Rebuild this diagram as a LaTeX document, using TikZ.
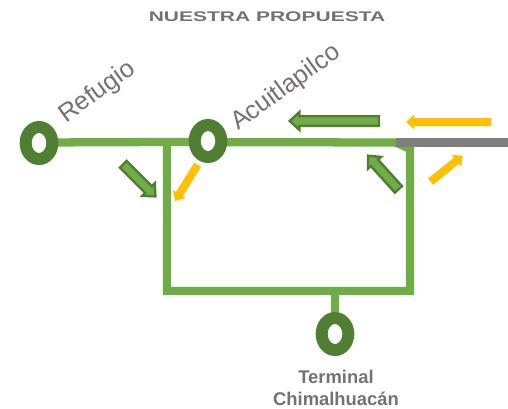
\documentclass[tikz,border=0pt]{standalone}
\usepackage{fontspec}
\setmainfont{Liberation Sans}
\usetikzlibrary{shapes.geometric,shapes.arrows}
\definecolor{lineG}{HTML}{70AD47}
\definecolor{darkG}{HTML}{507E32}
\definecolor{amber}{HTML}{FFC000}
\definecolor{greyL}{HTML}{7F7F7F}
\definecolor{txt}{HTML}{767171}
\tikzset{
  x=0.75pt,y=-0.75pt,
  station/.style={ellipse,draw=darkG,line width=9pt,fill=white,minimum width=20pt,minimum height=24pt,inner sep=0pt},
  route/.style={draw=lineG,line width=6.2pt},
  oldroute/.style={draw=greyL,line width=6.2pt},
  garrow/.style={single arrow,draw=darkG,line width=1.8pt,fill=lineG,inner xsep=0pt,inner ysep=2.7pt,single arrow head extend=3pt,single arrow tip angle=85,text width=0pt,text height=0pt,text depth=0pt},
  yarrow/.style={single arrow,fill=amber,inner xsep=0pt,inner ysep=2.8pt,single arrow head extend=2.6pt,single arrow tip angle=85,text width=0pt,text height=0pt,text depth=0pt},
  label/.style={text=txt,font=\fontsize{19}{21}\selectfont,inner sep=0pt},
  termlabel/.style={text=txt,font=\fontsize{13.8}{16}\selectfont\bfseries,align=center,inner sep=0pt},
}
\begin{document}
\begin{tikzpicture}
\useasboundingbox (0,0) rectangle (508,408);
\node[text=txt,font=\fontsize{10.5}{12}\selectfont\bfseries,inner sep=0pt,xscale=1.5] (title) at (267,16.5) {NUESTRA PROPUESTA};
\coordinate (j1) at (167,142);
\coordinate (j2) at (396,142.5);
\coordinate (j3) at (410,149);
\coordinate (j4) at (410,291);
\coordinate (j5) at (167,291);
\coordinate (j6) at (335,291);
\coordinate (e) at (508,142.5);
% routes
\draw[route,line join=miter] (39,142.5) -- (j1) -- (j2);
\draw[route,line join=miter] (j2) -- (j3) -- (j4) -- (j5) -- (j1);
\draw[route] (j6) -- (335,334);
\draw[oldroute] (j2) -- (e);
% stations
\node[station] (ref) at (39,143) {};
\node[station] (aca) at (208,141) {};
\node[station] (ter) at (335,334) {};
% labels
\node[label,rotate=36] (lref) at (97.5,92.5) {Refugio};
\node[label,rotate=36] (laca) at (286,88) {Acuitlapilco};
\node[termlabel] (lter) at (336,388) {Terminal\\Chimalhuacán};
% green arrows
\node[garrow,minimum height=34pt,rotate=-45] (g1) at (137.5,178.5) {};
\node[garrow,minimum height=67pt,rotate=180] (g2) at (337,121) {};
\node[garrow,minimum height=34pt,rotate=132] (g3) at (385,174.5) {};
% yellow arrows
\node[yarrow,minimum height=32pt,rotate=238] (y1) at (187.5,181) {};
\node[yarrow,minimum height=64pt,rotate=180] (y2) at (451,122) {};
\node[yarrow,minimum height=31pt,rotate=39] (y3) at (445,170) {};
\end{tikzpicture}
\end{document}
